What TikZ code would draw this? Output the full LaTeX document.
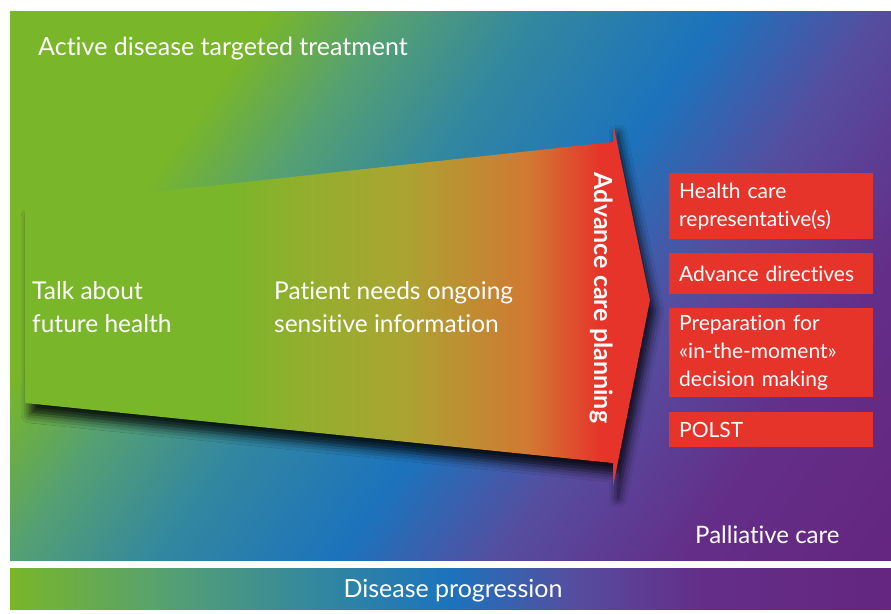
\documentclass[tikz,border=0pt]{standalone}
\usepackage{fontspec}
\setmainfont{Lato}[Ligatures={NoCommon,NoContextual}]
\usetikzlibrary{shadows.blur}
\definecolor{acpgreen}{RGB}{121,182,41}
\definecolor{acpteal}{RGB}{85,160,115}
\definecolor{acpcyan}{RGB}{50,135,160}
\definecolor{acpblue}{RGB}{28,115,188}
\definecolor{acpviolet}{RGB}{85,78,160}
\definecolor{acppurple}{RGB}{100,46,136}
\definecolor{acpdeep}{RGB}{100,38,128}
\definecolor{acplime}{RGB}{145,175,45}
\definecolor{acpolive}{RGB}{170,165,50}
\definecolor{acporange}{RGB}{210,120,50}
\definecolor{acpred}{RGB}{230,52,42}
\newcommand{\boxcolor}{acpred}
\newcommand{\boxwidth}{204pt}
\newcommand{\textcol}{white}
\pgfdeclarehorizontalshading{bgshade}{100bp}{color(0bp)=(acpgreen); color(33bp)=(acpgreen); color(38.7bp)=(acpteal); color(45.4bp)=(acpcyan); color(53.6bp)=(acpblue); color(60.7bp)=(acpviolet); color(69.3bp)=(acppurple); color(78.7bp)=(acpdeep); color(100bp)=(acpdeep)}
\pgfdeclarehorizontalshading{barshade}{100bp}{color(0bp)=(acpgreen); color(25bp)=(acpgreen); color(34bp)=(acpteal); color(42.6bp)=(acpcyan); color(50bp)=(acpblue); color(56.8bp)=(acpviolet); color(64.2bp)=(acppurple); color(75bp)=(acpdeep); color(100bp)=(acpdeep)}
\pgfdeclarehorizontalshading{arrowshade}{100bp}{color(0bp)=(acpgreen); color(41bp)=(acpgreen); color(47bp)=(acplime); color(55bp)=(acpolive); color(65.4bp)=(acporange); color(71bp)=(acpred); color(100bp)=(acpred)}
\tikzset{
  bigtext/.style={text=\textcol, inner sep=0pt, anchor=base west, font=\fontsize{25}{33}\selectfont},
  midtext/.style={text=\textcol, inner sep=0pt, anchor=north west, align=left, font=\fontsize{24.5}{33}\selectfont},
  careitem/.style={fill=\boxcolor, text=\textcol, anchor=north west, minimum width=\boxwidth, text width=184pt, inner xsep=10pt, inner ysep=0pt, align=left, font=\fontsize{21}{28}\selectfont},
  acptext/.style={text=\textcol, inner sep=0pt, rotate=-90, font=\bfseries\fontsize{25}{30}\selectfont},
}

\begin{document}
\begin{tikzpicture}[x=1pt,y=-1pt]
\useasboundingbox (0,0) rectangle (891,613);
%background
\begin{scope}
\clip (10,11) rectangle (891,560);
\shade[shading=bgshade, shading angle=-35] (0.5,-164.5) rectangle (900.5,735.5);
\end{scope}
%bottom bar
\shade[shading=barshade] (10,568) rectangle (891,609);
%arrow
\shade[shading=arrowshade, blur shadow={shadow xshift=5pt, shadow yshift=-11pt, shadow blur radius=9pt, shadow opacity=85}] (25,206) -- (613,142) -- (613,123) -- (650,300) -- (613,487) -- (613,463) -- (25,403) -- cycle;
%texts
\node[bigtext] (active) at (38,55) {Active disease targeted treatment};
\node[midtext] (talk) at (32,281) {Talk about\\future health};
\node[midtext] (needs) at (274,281) {Patient needs ongoing\\sensitive information};
\node[acptext] (acp) at (602,298) {Advance care planning};
\node[bigtext, font=\fontsize{24}{30}\selectfont] (palliative) at (695,543) {Palliative care};
\node[bigtext, anchor=base] (progression) at (453,597) {Disease progression};
%boxes
\node[careitem, minimum height=66pt] (rep) at (669,173) {Health care\\representative(s)};
\node[careitem, minimum height=41pt] (dir) at (669,253) {Advance directives};
\node[careitem, minimum height=89pt] (prep) at (669,308) {Preparation for\\«in-the-moment»\\decision making};
\node[careitem, minimum height=35pt] (polst) at (669,412) {POLST};
\end{tikzpicture}
\end{document}
